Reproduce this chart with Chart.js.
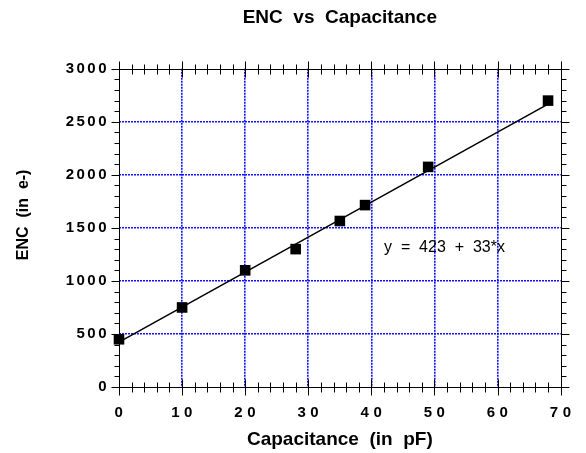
<!DOCTYPE html>
<html>
<head>
<meta charset="utf-8">
<title>ENC vs Capacitance</title>
<script src="https://cdn.jsdelivr.net/npm/chart.js@4.4.0/dist/chart.umd.min.js"></script>
<style>
  html, body { margin: 0; padding: 0; background: #fff; }
  #wrap { width: 586px; height: 453px; }
</style>
</head>
<body>
<div id="wrap"><canvas id="encChart" width="586" height="453"></canvas></div>
<script>
// measured points
var capacitance = [0, 10, 20, 28, 35, 39, 49, 68];
var enc = [450, 750, 1100, 1300, 1565, 1715, 2075, 2700];

// fit shown on the plot: y = 423 + 33*x, drawn over the data range
var fitIntercept = 423;
var fitSlope = 33;
var fitRange = [0, 68];
var fitLabel = "y  =  423  +  33*x";
var fitLabelAt = [42, 1316];

var xTicks = [0, 10, 20, 30, 40, 50, 60, 70];
var yTicks = [0, 500, 1000, 1500, 2000, 2500, 3000];
var xMinorStep = 2;
var yMinorStep = 100;

var FONT = "'Liberation Sans', Arial, Helvetica, sans-serif";
var GRID_BLUE = "#1010ff";

function edgeColor(ticks) {
  return function(c) {
    var v = c.tick ? c.tick.value : null;
    if (v === ticks[0] || v === ticks[ticks.length - 1]) return "rgba(0,0,0,0)";
    return GRID_BLUE;
  };
}

function fixedTicks(values) {
  return function(scale) {
    scale.ticks = values.map(function(v) { return { value: v }; });
  };
}

function plainLabel(v) { return String(v); }

// spaced-out tick labels like the original plot
function spaceLabels(scale, spacing, dx) {
  scale.drawLabels = function(area) {
    var c = this.ctx;
    c.save();
    c.letterSpacing = spacing + "px";
    c.translate(dx, 0);
    Chart.Scale.prototype.drawLabels.call(this, area);
    c.restore();
  };
}

var framePlugin = {
  id: "frame",
  beforeDraw: function(chart) {
    spaceLabels(chart.scales.x, 4.5, 2);
    spaceLabels(chart.scales.y, 2.5, 0);
    var ys = chart.scales.y;
    ys.drawTitle = function() {
      var c = this.ctx;
      c.save();
      c.translate(0, -13);
      Chart.Scale.prototype.drawTitle.call(this);
      c.restore();
    };
  },
  beforeDatasetsDraw: function(chart) {
    var c = chart.ctx, a = chart.chartArea;
    var xs = chart.scales.x, ys = chart.scales.y;
    var L = Math.round(a.left) + 0.5, R = Math.round(a.right) + 0.5;
    var T = Math.round(a.top) + 0.5, B = Math.round(a.bottom) + 0.5;
    c.save();
    c.strokeStyle = "#000";
    c.lineWidth = 1;
    c.beginPath();
    c.rect(L, T, R - L, B - T);

    var xMax = xTicks[xTicks.length - 1];
    for (var v = xTicks[0]; v <= xMax; v += xMinorStep) {
      var px = Math.round(xs.getPixelForValue(v)) + 0.5;
      var len = (v % (xTicks[1] - xTicks[0]) === 0) ? 8 : 5;
      c.moveTo(px, B - len); c.lineTo(px, B + len);
      c.moveTo(px, T - len); c.lineTo(px, T + len);
    }
    var yMax = yTicks[yTicks.length - 1];
    for (var w = yTicks[0]; w <= yMax; w += yMinorStep) {
      var py = Math.round(ys.getPixelForValue(w)) + 0.5;
      var l2 = (w % (yTicks[1] - yTicks[0]) === 0) ? 8 : 5;
      c.moveTo(L - l2, py); c.lineTo(L, py);
      c.moveTo(R, py); c.lineTo(R + l2, py);
    }
    c.stroke();
    c.restore();
  },
  afterDatasetsDraw: function(chart) {
    var c = chart.ctx;
    c.save();
    c.fillStyle = "#000";
    c.font = "16px " + FONT;
    c.textAlign = "left";
    c.textBaseline = "middle";
    c.fillText(fitLabel,
      chart.scales.x.getPixelForValue(fitLabelAt[0]),
      chart.scales.y.getPixelForValue(fitLabelAt[1]));
    c.restore();
  }
};

function renderChart() {
  var ctx = document.getElementById("encChart").getContext("2d");
  var points = capacitance.map(function(x, i) { return { x: x, y: enc[i] }; });
  var fitPoints = fitRange.map(function(x) { return { x: x, y: fitIntercept + fitSlope * x }; });

  new Chart(ctx, {
    type: "scatter",
    data: {
      datasets: [{
        label: "fit",
        data: fitPoints,
        showLine: true,
        borderColor: "#000",
        borderWidth: 1.5,
        pointRadius: 0,
        clip: false,
        order: 2,
      }, {
        label: "ENC",
        data: points,
        pointStyle: "rect",
        pointRadius: 7.5,
        pointBorderWidth: 0,
        backgroundColor: "#000",
        borderColor: "#000",
        clip: false,
        order: 1,
      }],
    },
    options: {
      responsive: false,
      animation: false,
      events: [],
      layout: { padding: { top: 0, right: 19, bottom: 0, left: 0 } },
      plugins: {
        legend: { display: false },
        tooltip: { enabled: false },
        title: {
          display: true,
          fullSize: false,
          text: "ENC  vs  Capacitance",
          color: "#000",
          font: { family: FONT, size: 19, weight: "bold" },
          padding: { top: 6, bottom: 40 },
        },
      },
      scales: {
        x: {
          type: "linear",
          min: xTicks[0],
          max: xTicks[xTicks.length - 1],
          afterBuildTicks: fixedTicks(xTicks),
          afterFit: function(s) { s.height = 66; },
          grid: { color: edgeColor(xTicks), lineWidth: 1.6, drawTicks: false },
          border: { display: false, dash: [2, 1] },
          ticks: {
            color: "#000",
            padding: 17,
            maxRotation: 0,
            callback: plainLabel,
            font: { family: FONT, size: 15, weight: "bold" },
          },
          title: {
            display: true,
            text: "Capacitance  (in  pF)",
            color: "#000",
            font: { family: FONT, size: 19, weight: "bold" },
            padding: { top: 0, bottom: 2 },
          },
        },
        y: {
          type: "linear",
          min: yTicks[0],
          max: yTicks[yTicks.length - 1],
          afterBuildTicks: fixedTicks(yTicks),
          afterFit: function(s) { s.width = 119; },
          grid: { color: edgeColor(yTicks), lineWidth: 1.6, drawTicks: false },
          border: { display: false, dash: [2, 1] },
          ticks: {
            color: "#000",
            padding: 10,
            callback: plainLabel,
            font: { family: FONT, size: 15, weight: "bold" },
          },
          title: {
            display: true,
            text: "ENC  (in  e-)",
            color: "#000",
            font: { family: FONT, size: 16, weight: "bold" },
            padding: { top: 14, bottom: 0 },
          },
        },
      },
    },
    plugins: [framePlugin],
  });
}

document.addEventListener("DOMContentLoaded", renderChart);
</script>
</body>
</html>
